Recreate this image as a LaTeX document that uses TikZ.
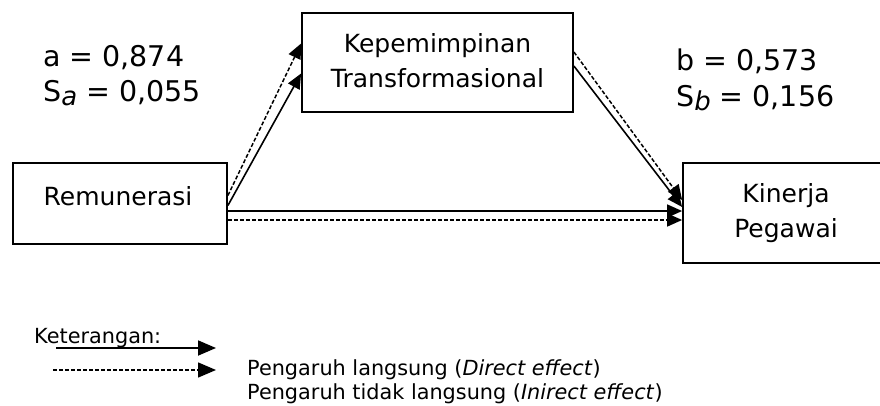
\documentclass[tikz,border=0pt]{standalone}
\usepackage{fontspec}
\setmainfont{DejaVu Sans}
\usetikzlibrary{arrows.meta}
\begin{document}
\begin{tikzpicture}[x=1pt,y=-1pt,
  box/.style={draw=black, line width=1.8pt, rectangle, inner sep=0pt},
  boxtxt/.style={anchor=base, inner sep=0pt, font=\fontsize{25}{30}\selectfont},
  lbl/.style={anchor=base west, inner sep=0pt, font=\fontsize{28.5}{34}\selectfont},
  legtxt/.style={anchor=base west, inner sep=0pt, font=\fontsize{20.8}{25}\selectfont},
  solidarr/.style={line width=1.6pt, -{Triangle[length=15pt,width=13pt]}},
  dasharr/.style={line width=1.5pt, dash pattern=on 4pt off 2pt, -{Triangle[length=15pt,width=13pt]}},
  legsolid/.style={line width=1.8pt, -{Triangle[length=18pt,width=15pt]}},
  legdash/.style={line width=1.5pt, dash pattern=on 4pt off 2pt, -{Triangle[length=18pt,width=15pt]}},
]
\useasboundingbox (0,0) rectangle (880,405);

% boxes
\node[box, minimum width=214pt, minimum height=81pt] (rem) at (120,203.5) {};
\node[boxtxt] (remt) at (118,205) {Remunerasi};

\node[box, minimum width=271pt, minimum height=99pt] (kep) at (437.5,62.5) {};
\node[boxtxt] (kept1) at (437.5,52) {Kepemimpinan};
\node[boxtxt] (kept2) at (437.5,87) {Transformasional};

\node[box, minimum width=206pt, minimum height=100pt] (kin) at (786,213) {};
\node[boxtxt] (kint1) at (786,202) {Kinerja};
\node[boxtxt] (kint2) at (786,237) {Pegawai};

% coefficient labels
\node[lbl] (la) at (43,66) {a = 0,874};
\node[lbl] (lsa) at (43,101) {S\raisebox{-4pt}{\fontsize{26}{30}\selectfont\itshape a} = 0,055};
\node[lbl] (lb) at (676,70) {b = 0,573};
\node[lbl] (lsb) at (676,106) {S\raisebox{-4pt}{\fontsize{26}{30}\selectfont\itshape b} = 0,156};

% connectors
\draw[dasharr] ([yshift=8pt]rem.east) -- ([yshift=19pt]kep.west);
\draw[solidarr] ([yshift=-2pt]rem.east) -- ([yshift=-11pt]kep.west);
\draw[dasharr] ([yshift=10.5pt]kep.east) -- ([yshift=13pt]kin.west);
\draw[solidarr] ([yshift=-3.5pt]kep.east) -- ([yshift=6pt]kin.west);
\draw[solidarr] ([yshift=-7.5pt]rem.east) -- ([yshift=2pt]kin.west);
\draw[dasharr] ([yshift=-16.5pt]rem.east) -- ([yshift=-7pt]kin.west);

% legend
\node[legtxt] (ket) at (34,343) {Keterangan:};
\coordinate (s1) at (56,348);
\coordinate (e1) at (216,348);
\draw[legsolid] (s1) -- (e1);
\coordinate (s2) at (53,370);
\coordinate (e2) at (216,370);
\draw[legdash] (s2) -- (e2);
\node[legtxt] (l1) at (247,375) {Pengaruh langsung (\textit{Direct effect})};
\node[legtxt] (l2) at (247,399) {Pengaruh tidak langsung (\textit{Inirect effect})};
\end{tikzpicture}
\end{document}
